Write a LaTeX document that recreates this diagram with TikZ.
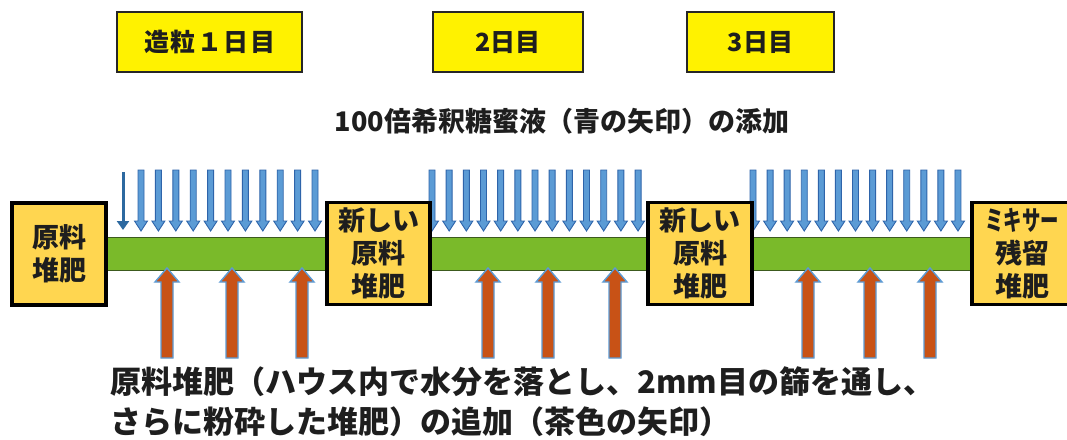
\documentclass[tikz,border=0pt]{standalone}
\usepackage{fontspec}
\usepackage{graphicx}
\usetikzlibrary{arrows.meta}
\setmainfont{Noto Sans CJK JP}
\definecolor{boxgold}{RGB}{255,214,80}
\definecolor{bandgreen}{RGB}{122,186,42}
\definecolor{bandedge}{RGB}{60,90,30}
\definecolor{arrblue}{RGB}{91,155,213}
\definecolor{arrblueedge}{RGB}{46,100,170}
\definecolor{arrdark}{RGB}{45,105,160}
\definecolor{arrbrown}{RGB}{200,82,22}
\definecolor{txt}{RGB}{30,30,30}
\tikzset{
  daybox/.style={draw=black!85, line width=1.6pt, fill=yellow, minimum width=#1, minimum height=60pt, inner sep=0pt, text=txt, font=\bfseries\fontsize{25}{28}\selectfont},
  sidebox/.style={draw=black, line width=3.5pt, fill=boxgold, minimum width=#1, minimum height=102pt, inner sep=0pt, align=center, text=txt, font=\bfseries\fontsize{27}{33}\selectfont},
  bluearrow/.style={fill=arrblue, draw=arrblueedge, line width=0.9pt, line join=miter},
  brownarrow/.style={fill=arrbrown, draw=arrblue, line width=1.4pt, line join=miter},
  label/.style={text=txt, inner sep=0pt, font=\bfseries\fontsize{27}{32}\selectfont}
}
\newcommand\bluedown[1]{%
  \path[bluearrow] (#1-3,170) -- (#1+3,170) -- (#1+3,221) -- (#1+6.5,221) -- (#1,231) -- (#1-6.5,221) -- (#1-3,221) -- cycle;}
\newcommand\brownup[1]{%
  \path[brownarrow] (#1-6,358) -- (#1+6,358) -- (#1+6,282) -- (#1+12,282) -- (#1,268) -- (#1-12,282) -- (#1-6,282) -- cycle;}
\begin{document}
\begin{tikzpicture}[x=1pt,y=-1pt]
\useasboundingbox (0,0) rectangle (1067,439);
\fill[white] (0,0) rectangle (1067,439);
% top day boxes
\node[daybox=185pt] (d1) at (209.5,42) {\addfontfeature{LetterSpace=6}造粒１日目};
\node[daybox=150pt] (d2) at (508,42) {2日目};
\node[daybox=147pt] (d3) at (760.5,42) {3日目};
% middle label
\node[label] (syrup) at (562,121) {100倍希釈糖蜜液（青の矢印）の添加};
% green band
\node[fill=bandgreen, draw=bandedge, line width=0.8pt, minimum width=870pt, minimum height=33pt, inner sep=0pt] (band) at (539,253.5) {};
% blue arrows
\draw[arrdark, line width=3pt, -{Triangle[width=12pt,length=9pt]}] (123,172) -- (123,230);
\foreach \i in {0,...,10} {\pgfmathsetmacro\xx{141+17.4*\i}\bluedown{\xx}}
\foreach \i in {0,...,12} {\pgfmathsetmacro\xx{432+17.17*\i}\bluedown{\xx}}
\foreach \i in {0,...,12} {\pgfmathsetmacro\xx{753+17.08*\i}\bluedown{\xx}}
% brown arrows
\foreach \xx in {167,232,302,488,548,615,808,870,930} {\brownup{\xx}}
% side boxes
\node[sidebox=94pt] (b1) at (59,254) {原料\\堆肥};
\node[sidebox=103pt] (b2) at (378.5,253.5) {新しい\\原料\\堆肥};
\node[sidebox=104pt] (b3) at (700,253.5) {新しい\\原料\\堆肥};
\node[sidebox=100pt] (b4) at (1022,253.5) {\scalebox{0.68}[1]{ミキサー}\\残留\\堆肥};
% bottom label
\node[label, anchor=west, font=\bfseries\fontsize{31}{40}\selectfont, align=left] (compost) at (110,402) {原料堆肥（ハウス内で水分を落とし、2mm目の篩を通し、\\さらに粉砕した堆肥）の追加（茶色の矢印）};
\end{tikzpicture}
\end{document}
